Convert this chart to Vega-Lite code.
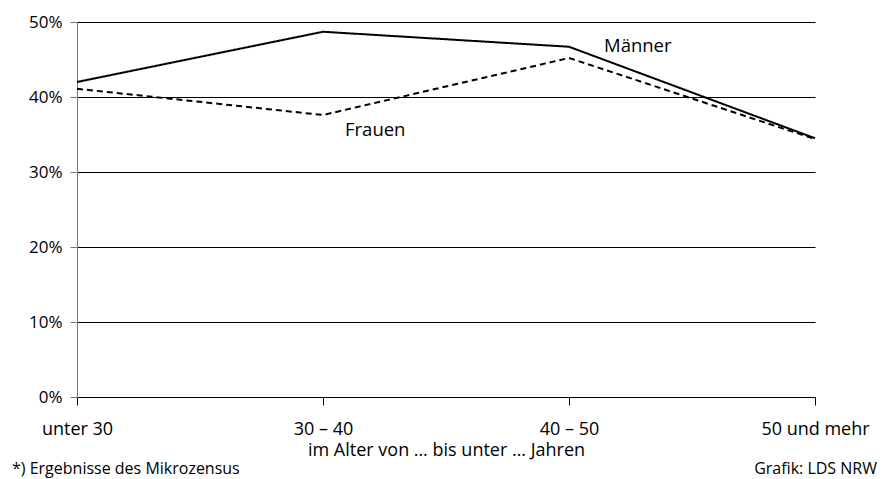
{
  "$schema": "https://vega.github.io/schema/vega-lite/v6.json",
  "width": 738,
  "height": 375,
  "autosize": {"type": "none"},
  "padding": {"left": 77, "top": 22, "right": 68, "bottom": 82},
  "background": "white",
  "config": {"view": {"stroke": null}, "font": "Open Sans"},
  "datasets": {
    "lines": [
      {"age": "unter 30", "sex": "Männer", "value": 42.0},
      {"age": "30 – 40", "sex": "Männer", "value": 48.7},
      {"age": "40 – 50", "sex": "Männer", "value": 46.7},
      {"age": "50 und mehr", "sex": "Männer", "value": 34.5},
      {"age": "unter 30", "sex": "Frauen", "value": 41.1},
      {"age": "30 – 40", "sex": "Frauen", "value": 37.6},
      {"age": "40 – 50", "sex": "Frauen", "value": 45.2},
      {"age": "50 und mehr", "sex": "Frauen", "value": 34.4}
    ],
    "labelM": [
      {"age": "40 – 50", "value": 46.8, "label": "Männer"}
    ],
    "labelF": [
      {"age": "30 – 40", "value": 35.6, "label": "Frauen"}
    ],
    "source": [
      {"age": "50 und mehr", "value": -10.3, "label": "Grafik: LDS NRW"}
    ],
    "note": [
      {"age": "unter 30", "value": -10.3, "label": "*) Ergebnisse des Mikrozensus"}
    ]
  },
  "layer": [
    {
      "data": {"name": "lines"},
      "mark": {"type": "line", "strokeWidth": 2, "color": "black"},
      "encoding": {
        "x": {
          "field": "age", "type": "ordinal", "sort": ["unter 30", "30 – 40", "40 – 50", "50 und mehr"],
          "scale": {"type": "point", "padding": 0},
          "axis": {
            "labelAngle": 0, "labelFontSize": 18, "labelColor": "black", "labelPadding": 15,
            "domain": true, "domainColor": "black", "domainWidth": 1,
            "ticks": true, "tickColor": "black", "tickSize": 8,
            "title": "im Alter von … bis unter … Jahren", "titleFontSize": 18, "titleFontWeight": "normal", "titleColor": "black", "titlePadding": 3
          }
        },
        "y": {
          "field": "value", "type": "quantitative",
          "scale": {"domain": [0, 50], "nice": false},
          "axis": {
            "values": [0, 10, 20, 30, 40, 50], "labelExpr": "datum.value + '%'",
            "labelFontSize": 17, "labelColor": "black", "labelPadding": 8,
            "grid": true, "gridColor": "black", "gridOpacity": 1, "gridWidth": 1,
            "domain": true, "domainColor": "#777", "tickColor": "#777", "tickSize": 7,
            "title": null
          }
        },
        "strokeDash": {"field": "sex", "type": "nominal", "scale": {"domain": ["Männer", "Frauen"], "range": [[1, 0], [6, 4]]}, "legend": null}
      }
    },
    {
      "data": {"name": "labelM"},
      "mark": {"type": "text", "align": "left", "baseline": "middle", "fontSize": 18.5, "color": "black", "dx": 35},
      "encoding": {
        "x": {"field": "age", "type": "ordinal", "sort": ["unter 30", "30 – 40", "40 – 50", "50 und mehr"]},
        "y": {"field": "value", "type": "quantitative"},
        "text": {"field": "label"}
      }
    },
    {
      "data": {"name": "labelF"},
      "mark": {"type": "text", "align": "left", "baseline": "middle", "fontSize": 18.5, "color": "black", "dx": 22},
      "encoding": {
        "x": {"field": "age", "type": "ordinal", "sort": ["unter 30", "30 – 40", "40 – 50", "50 und mehr"]},
        "y": {"field": "value", "type": "quantitative"},
        "text": {"field": "label"}
      }
    },
    {
      "data": {"name": "source"},
      "mark": {"type": "text", "align": "right", "baseline": "alphabetic", "fontSize": 16, "color": "black", "dx": 62},
      "encoding": {
        "x": {"field": "age", "type": "ordinal", "sort": ["unter 30", "30 – 40", "40 – 50", "50 und mehr"]},
        "y": {"field": "value", "type": "quantitative"},
        "text": {"field": "label"}
      }
    },
    {
      "data": {"name": "note"},
      "mark": {"type": "text", "align": "left", "baseline": "alphabetic", "fontSize": 16, "color": "black", "dx": -65},
      "encoding": {
        "x": {"field": "age", "type": "ordinal", "sort": ["unter 30", "30 – 40", "40 – 50", "50 und mehr"]},
        "y": {"field": "value", "type": "quantitative"},
        "text": {"field": "label"}
      }
    }
  ]
}
